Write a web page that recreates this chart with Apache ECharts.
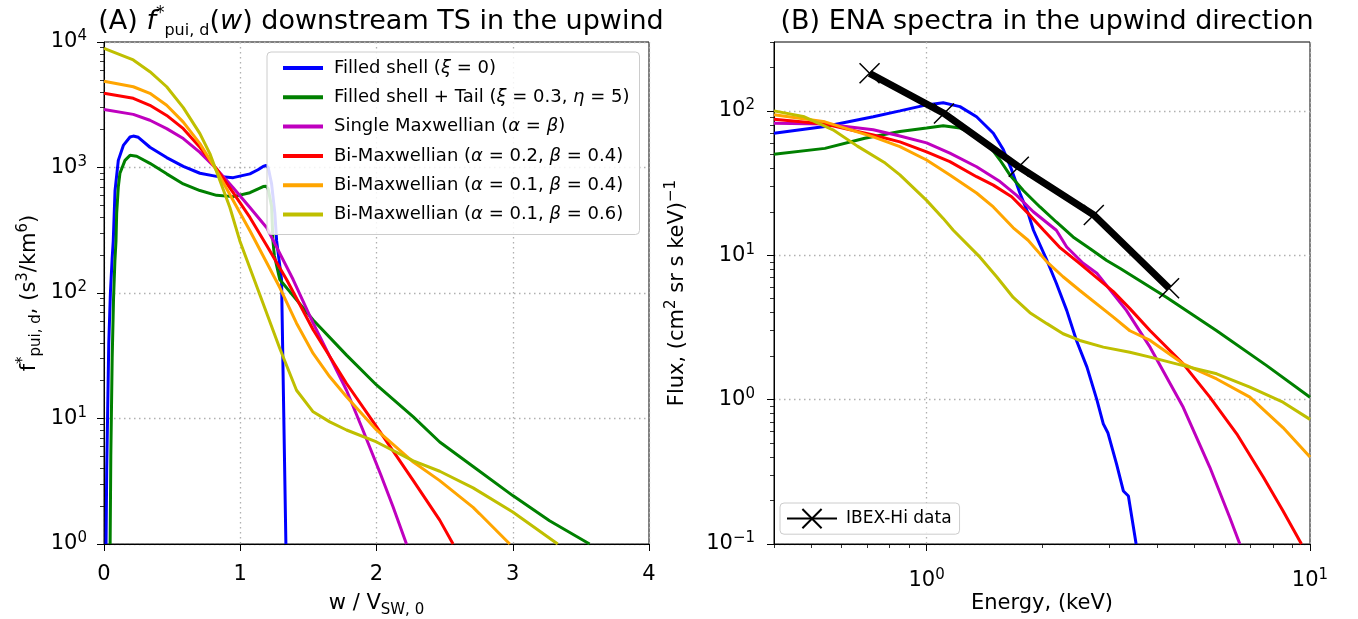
<!DOCTYPE html>
<html>
	<head>
		<meta charset="utf-8">
		<title>PUI distributions and ENA spectra</title>
		<style>
			body { margin: 0; background: #fff; }
		</style>
	</head>
	<body>
		<!-- chart area -->
		<div id="container" style="width: 1358px;height:619px;"></div>
	</body>
	<script src="https://cdn.jsdelivr.net/npm/echarts@6/dist/echarts.min.js"></script>
	<script type="text/javascript">
		'use strict'
		// ---- data ----
		var seriesNames = [
			'Filled shell (ξ = 0)',
			'Filled shell + Tail (ξ = 0.3, η = 5)',
			'Single Maxwellian (α = β)',
			'Bi-Maxwellian (α = 0.2, β = 0.4)',
			'Bi-Maxwellian (α = 0.1, β = 0.4)',
			'Bi-Maxwellian (α = 0.1, β = 0.6)'
		];
		// rich-text version of the legend labels (greek letters italic)
		var legendLabels = [
			'Filled shell ({it|ξ} = 0)',
			'Filled shell + Tail ({it|ξ} = 0.3, {it|η} = 5)',
			'Single Maxwellian ({it|α} = {it|β})',
			'Bi-Maxwellian ({it|α} = 0.2, {it|β} = 0.4)',
			'Bi-Maxwellian ({it|α} = 0.1, {it|β} = 0.4)',
			'Bi-Maxwellian ({it|α} = 0.1, {it|β} = 0.6)'
		];
		var colors = ['#0000ff', '#008000', '#bf00bf', '#ff0000', '#ffa500', '#bfbf00'];

		// panel A : [w / V_sw0, f*pui,d]
		var shellA = [[0.015,1],[0.02,4],[0.026,10],[0.035,40],[0.047,100],[0.06,190],[0.068,260],[0.081,655],[0.105,1140],[0.142,1500],[0.191,1750],[0.215,1780],[0.252,1740],[0.337,1450],[0.46,1200],[0.582,1020],[0.704,900],[0.826,850],[0.948,830],[1.071,890],[1.13,960],[1.168,1020],[1.19,1040],[1.205,1000],[1.23,740],[1.254,430],[1.267,260],[1.303,128],[1.335,1]];
		var tailA = [[0.045,1],[0.05,5],[0.06,30],[0.07,90],[0.08,180],[0.088,260],[0.093,430],[0.105,700],[0.117,900],[0.154,1140],[0.191,1250],[0.24,1230],[0.337,1080],[0.46,890],[0.582,740],[0.704,655],[0.826,600],[0.948,586],[1.071,630],[1.168,705],[1.19,710],[1.205,675],[1.23,490],[1.24,260],[1.25,200],[1.29,128],[1.41,89],[1.535,61],[1.78,32],[2.0,18.5],[2.27,10.3],[2.464,6.5],[2.709,4.15],[3.0,2.43],[3.27,1.53],[3.564,1]];
		var maxwA = [[0,2900],[0.215,2650],[0.337,2380],[0.46,2040],[0.582,1700],[0.704,1320],[0.826,975],[0.948,690],[1.071,480],[1.193,333],[1.388,128],[1.535,57.5],[1.78,16.8],[1.9,8.1],[2.03,3.6],[2.12,2],[2.22,1]];
		var biMax24A = [[0,3900],[0.215,3560],[0.337,3130],[0.46,2600],[0.582,2040],[0.704,1450],[0.826,975],[0.948,630],[1.071,400],[1.193,240],[1.34,128],[1.535,51],[1.78,19],[2.0,8.6],[2.27,3.2],[2.464,1.55],[2.562,1]];
		var biMax14A = [[0,4870],[0.215,4400],[0.337,3900],[0.46,3130],[0.582,2300],[0.704,1550],[0.826,945],[0.948,545],[1.071,313],[1.291,110],[1.413,57.5],[1.535,33],[1.657,21.5],[1.78,14.9],[2.0,8.1],[2.27,4.5],[2.464,3.2],[2.709,1.96],[2.757,1.74],[2.978,1]];
		var biMax16A = [[0,8900],[0.215,7200],[0.337,5800],[0.46,4400],[0.582,3000],[0.704,1860],[0.777,1290],[0.85,790],[0.924,480],[0.997,260],[1.15,93],[1.291,36],[1.413,16.8],[1.535,11.3],[1.657,9.4],[1.78,8.1],[2.0,6.5],[2.27,4.6],[2.464,3.8],[2.709,2.8],[3.0,1.8],[3.33,1]];

		// panel B : [energy keV, flux]
		var shellB = [[0.4,70],[0.543,78],[0.726,91],[0.852,100],[1.0,110],[1.105,114],[1.222,107],[1.35,91],[1.493,70],[1.585,54],[1.667,39],[1.751,27],[1.84,19.5],[1.9,14.9],[2.06,9.2],[2.18,6.4],[2.32,4.15],[2.46,2.57],[2.62,1.68],[2.78,1.0],[2.89,0.68],[2.97,0.59],[3.13,0.357],[3.26,0.233],[3.36,0.215],[3.52,0.1]];
		var tailB = [[0.4,50],[0.543,55],[0.69,64.6],[0.852,72],[1.0,76],[1.105,79],[1.222,76],[1.35,68],[1.463,56.5],[1.554,45.7],[1.649,36],[1.79,28],[1.976,21.6],[2.18,17],[2.41,13.4],[2.67,11.1],[2.95,9.2],[3.2,8.1],[4.23,5.1],[5.71,3.0],[7.71,1.72],[10,1.04]];
		var maxwB = [[0.4,82],[0.543,81],[0.726,74],[0.852,67],[1.0,60],[1.15,51],[1.35,41],[1.554,32.4],[1.718,26],[1.898,20],[2.18,14.9],[2.32,11.4],[2.56,8.8],[2.78,7.5],[3.32,4.15],[3.83,2.3],[4.67,0.885],[5.48,0.34],[6.18,0.152],[6.56,0.1]];
		var biMax24B = [[0.4,87.6],[0.543,81],[0.726,68],[0.852,61],[1.0,52],[1.15,44.5],[1.35,35],[1.493,30.6],[1.667,25.4],[1.84,19.5],[2.02,14.9],[2.22,11.4],[2.51,8.75],[3.07,5.6],[3.39,4.27],[3.83,3.0],[4.67,1.77],[5.48,1.04],[6.44,0.58],[7.56,0.29],[8.5,0.17],[9.5,0.1]];
		var biMax14B = [[0.4,94],[0.543,84],[0.726,66],[0.852,56.5],[1.0,45.7],[1.15,36],[1.35,27],[1.493,21.6],[1.683,15.5],[1.84,12.7],[2.06,9.0],[2.27,7.1],[2.51,5.7],[3.07,3.73],[3.39,3.0],[3.83,2.57],[4.67,1.77],[5.71,1.39],[6.97,1.04],[8.5,0.64],[10,0.4]];
		var biMax16B = [[0.4,100],[0.48,91],[0.57,74],[0.66,57],[0.78,43.5],[0.852,36],[1.0,24],[1.105,18],[1.174,14.9],[1.378,9.7],[1.523,7.1],[1.683,5.1],[1.86,4.0],[2.06,3.36],[2.27,2.86],[2.51,2.57],[2.89,2.31],[3.39,2.13],[3.83,1.97],[4.67,1.72],[5.71,1.51],[6.97,1.22],[8.5,0.96],[10,0.73]];

		var ibexEnergy = [0.71, 1.11, 1.74, 2.73, 4.29];
		var ibexFlux = [182, 96, 41, 19, 5.9];

		// ticks
		var xTicksA = [0, 1, 2, 3, 4];
		var yMajorA = [1, 10, 100, 1000, 10000];
		var xMajorB = [1, 10];
		var yMajorB = [0.1, 1, 10, 100];
		function minorTicks(decades, lo, hi) {
			var out = [];
			decades.forEach(function (d) {
				for (var m = 2; m <= 9; m++) {
					var v = +(m * Math.pow(10, d)).toPrecision(6);
					if (v >= lo && v <= hi) out.push(v);
				}
			});
			return out;
		}
		var yMinorA = minorTicks([0, 1, 2, 3], 1, 10000);
		var xMinorB = [0.4].concat(minorTicks([-1, 0], 0.41, 10));
		var yMinorB = minorTicks([-1, 0, 1, 2], 0.1, 300);

		var dataA = [shellA, tailA, maxwA, biMax24A, biMax14A, biMax16A];
		var dataB = [shellB, tailB, maxwB, biMax24B, biMax14B, biMax16B];

		// ---- styles ----
		var FONT = 'DejaVu Sans';
		var supRich = {
			b: { fontSize: 21, lineHeight: 26, fontFamily: FONT, color: '#000' },
			sup: { fontSize: 15, lineHeight: 12, verticalAlign: 'top', fontFamily: FONT, color: '#000' }
		};
		function pow10(v) {
			var e = Math.round(Math.log(v) / Math.LN10);
			return '{b|10}{sup|' + (e < 0 ? '\u2212' + (-e) : e) + '}';
		}
		var gridLine = { show: true, lineStyle: { color: '#b0b0b0', type: [1.5, 3.5], width: 1.3 } };
		var blackLine = { show: true, lineStyle: { color: '#000', width: 1 } };
		var nameRich = {
			sup: { fontSize: 15, lineHeight: 12, verticalAlign: 'top', fontFamily: FONT, color: '#000' },
			sub: { fontSize: 15, lineHeight: 12, verticalAlign: 'bottom', fontFamily: FONT, color: '#000' }
		};
		function nameStyle() {
			return { fontSize: 21, lineHeight: 28, fontFamily: FONT, color: '#000', rich: nameRich };
		}
		function minorAxis(grid, min, max, values, pos) {
			return {
				gridIndex: grid, type: 'log', logBase: 10, min: min, max: max, position: pos,
				axisLine: { show: false },
				axisTick: { show: true, length: 4, customValues: values, lineStyle: { color: '#000', width: 0.8 } },
				axisLabel: { show: false },
				splitLine: { show: false }
			};
		}

		var myCharts = echarts.init(document.getElementById('container'));
		var series = [];
		seriesNames.forEach(function (nm, i) {
			series.push({
				name: nm, type: 'line', xAxisIndex: 0, yAxisIndex: 0,
				data: dataA[i], symbol: 'none', smooth: false, z: 3,
				lineStyle: { color: colors[i], width: 3 }, itemStyle: { color: colors[i] }
			});
			series.push({
				name: nm, type: 'line', xAxisIndex: 1, yAxisIndex: 2,
				data: dataB[i], symbol: 'none', smooth: false, z: 3,
				lineStyle: { color: colors[i], width: 3 }, itemStyle: { color: colors[i] }
			});
		});
		series.push({
			name: 'IBEX-Hi data', type: 'line', xAxisIndex: 1, yAxisIndex: 2,
			data: ibexEnergy.map(function (e, i) { return [e, ibexFlux[i]]; }),
			symbol: 'path://M0,0L10,10M10,0L0,10', symbolSize: 20, showSymbol: true, z: 5,
			lineStyle: { color: '#000', width: 7 },
			itemStyle: { color: '#000', borderColor: '#000', borderWidth: 1.5 }
		});

		var option = {
			animation: false,
			backgroundColor: '#fff',
			textStyle: { fontFamily: FONT },
			title: [{
				text: '(A) {it|f}{sup|*}{sub|pui, d}({it|w}) downstream TS in the upwind',
				left: 376, top: 0, textAlign: 'center',
				textStyle: {
					fontSize: 27, lineHeight: 34, fontWeight: 'normal', fontFamily: FONT, color: '#000',
					rich: {
						it: { fontSize: 27, lineHeight: 34, fontStyle: 'italic', fontFamily: FONT, color: '#000' },
						sup: { fontSize: 17, lineHeight: 14, verticalAlign: 'top', fontFamily: FONT, color: '#000' },
						sub: { fontSize: 16, lineHeight: 14, verticalAlign: 'bottom', fontFamily: FONT, color: '#000' }
					}
				}
			}, {
				text: '(B) ENA spectra in the upwind direction',
				left: 1042, top: 0, textAlign: 'center',
				textStyle: { fontSize: 27, lineHeight: 34, fontWeight: 'normal', fontFamily: FONT, color: '#000' }
			}],
			grid: [
				{ left: 104, top: 42, width: 545, height: 502, show: true, borderColor: '#000', borderWidth: 1, containLabel: false, outerBoundsMode: 'none' },
				{ left: 774, top: 42, width: 536, height: 502, show: true, borderColor: '#000', borderWidth: 1, containLabel: false, outerBoundsMode: 'none' }
			],
			legend: [{
				data: seriesNames,
				orient: 'vertical', left: 267, top: 52,
				icon: 'rect', itemWidth: 40, itemHeight: 4, itemGap: 9.3,
				padding: [6, 10, 10, 16],
				backgroundColor: 'rgba(255,255,255,0.85)',
				borderColor: '#cccccc', borderWidth: 1, borderRadius: 4,
				formatter: function (nm) { return legendLabels[seriesNames.indexOf(nm)]; },
				textStyle: {
					fontSize: 18, lineHeight: 20, fontFamily: FONT, color: '#000', padding: [0, 0, 0, 6],
					rich: { it: { fontSize: 18, lineHeight: 20, fontStyle: 'italic', fontFamily: FONT, color: '#000' } }
				}
			}, {
				data: ['IBEX-Hi data'],
				left: 780, top: 503,
				itemWidth: 50, itemHeight: 24,
				padding: [5, 8, 5, 6],
				backgroundColor: 'rgba(255,255,255,0.85)',
				borderColor: '#cccccc', borderWidth: 1, borderRadius: 4,
				textStyle: { fontSize: 17, fontFamily: FONT, color: '#000', padding: [0, 0, 0, 4] }
			}],
			xAxis: [{
				gridIndex: 0, type: 'value', min: 0, max: 4, interval: 1,
				name: 'w / V{sub|SW, 0}', nameLocation: 'middle', nameGap: 46, nameMoveOverlap: false, nameTextStyle: nameStyle(),
				axisLine: blackLine,
				axisTick: { show: true, length: 7, lineStyle: { color: '#000' } },
				axisLabel: { fontSize: 21, color: '#000', fontFamily: FONT, margin: 20, formatter: function (v) { return xTicksA.indexOf(v) >= 0 ? String(v) : ''; } },
				splitLine: gridLine
			}, {
				gridIndex: 1, type: 'log', logBase: 10, min: 0.4, max: 10,
				name: 'Energy, (keV)', nameLocation: 'middle', nameGap: 46, nameMoveOverlap: false, nameTextStyle: nameStyle(),
				axisLine: blackLine,
				axisTick: { show: true, length: 7, customValues: xMajorB, lineStyle: { color: '#000' } },
				axisLabel: { customValues: xMajorB, formatter: pow10, margin: 24, rich: supRich },
				splitLine: gridLine
			}, minorAxis(1, 0.4, 10, xMinorB, 'bottom')],
			yAxis: [{
				gridIndex: 0, type: 'log', logBase: 10, min: 1, max: 10000,
				name: 'f{sup|*}{sub|pui, d}, (s{sup|3}/km{sup|6})', nameLocation: 'middle', nameGap: 60, nameMoveOverlap: false, nameTextStyle: nameStyle(),
				axisLine: blackLine,
				axisTick: { show: true, length: 7, customValues: yMajorA, lineStyle: { color: '#000' } },
				axisLabel: { customValues: yMajorA, formatter: pow10, margin: 17, rich: supRich },
				splitLine: gridLine
			}, minorAxis(0, 1, 10000, yMinorA, 'left'), {
				gridIndex: 1, type: 'log', logBase: 10, min: 0.1, max: 300,
				name: 'Flux, (cm{sup|2} sr s keV){sup|\u22121}', nameLocation: 'middle', nameGap: 82, nameMoveOverlap: false, nameTextStyle: nameStyle(),
				axisLine: blackLine,
				axisTick: { show: true, length: 7, customValues: yMajorB, lineStyle: { color: '#000' } },
				axisLabel: { customValues: yMajorB, formatter: pow10, margin: 19, rich: supRich },
				splitLine: gridLine
			}, minorAxis(1, 0.1, 300, yMinorB, 'left')],
			series: series
		};
		myCharts.setOption(option);
	</script>
</html>
